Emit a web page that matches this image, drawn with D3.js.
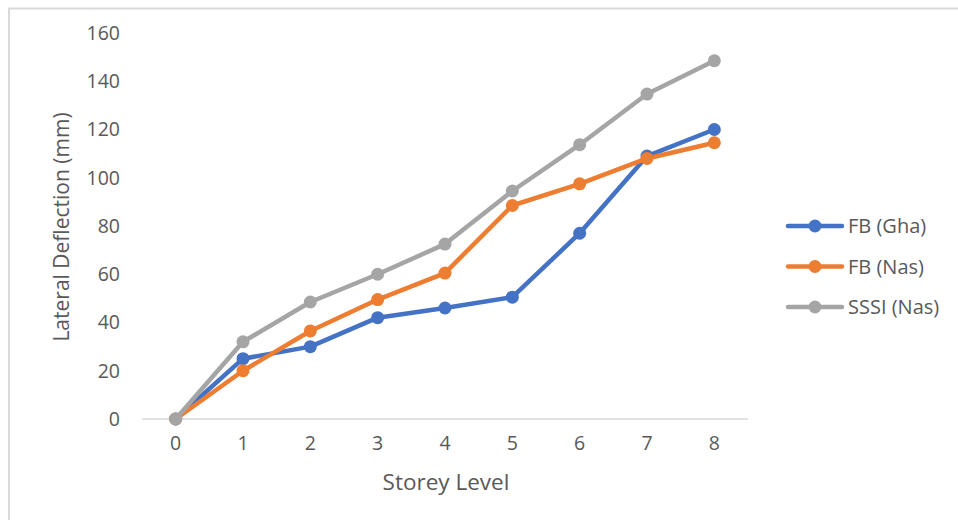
<!DOCTYPE html>
<html>
<head>
<meta charset="utf-8">
<script src="https://cdn.jsdelivr.net/npm/d3@7"></script>
<style>
  html, body { margin: 0; padding: 0; background: #fff; }
  svg { display: block; font-family: "Open Sans", "Noto Sans", sans-serif; }
</style>
</head>
<body>
<svg id="chart" width="958" height="520"></svg>
<script>
// Storey levels and lateral deflection (mm) per model
const storeys = [0, 1, 2, 3, 4, 5, 6, 7, 8];
const fbGha  = [0, 25, 30, 42, 46, 50.5, 77, 109, 120];
const fbNas  = [0, 20, 36.5, 49.5, 60.5, 88.5, 97.5, 108, 114.5];
const sssiNas = [0, 32, 48.5, 60, 72.5, 94.5, 113.7, 134.7, 148.5];
const yTicks = [0, 20, 40, 60, 80, 100, 120, 140, 160];

const series = [
  { name: "FB (Gha)",   values: fbGha,   color: "#4472c4" },
  { name: "FB (Nas)",   values: fbNas,   color: "#ed7d31" },
  { name: "SSSI (Nas)", values: sssiNas, color: "#a5a5a5" }
];

const svg = d3.select("#chart");

// chart frame
svg.append("rect")
  .attr("x", 9).attr("y", 8.5)
  .attr("width", 980).attr("height", 540)
  .attr("fill", "#fff").attr("stroke", "#d9d9d9").attr("stroke-width", 2);

const plot = { left: 142, right: 748, top: 33, bottom: 419 };

const x = d3.scaleBand()
  .domain(storeys)
  .range([plot.left, plot.right]);
const xc = d => x(d) + x.bandwidth() / 2;

const y = d3.scaleLinear()
  .domain([0, 160])
  .range([plot.bottom, plot.top]);

// baseline
svg.append("line")
  .attr("x1", plot.left).attr("x2", plot.right)
  .attr("y1", y(0)).attr("y2", y(0))
  .attr("stroke", "#d9d9d9").attr("stroke-width", 1.5);

// y axis labels
const yAxis = d3.axisLeft(y).tickValues(yTicks).tickSize(0).tickPadding(0);
const gy = svg.append("g").attr("transform", `translate(120,0)`).call(yAxis);
gy.select(".domain").remove();
gy.selectAll("text")
  .attr("fill", "#595959").attr("font-size", 19.5)
  .attr("font-family", "\"Open Sans\", sans-serif");

// x axis labels
const xAxis = d3.axisBottom(x).tickSize(0).tickPadding(0);
const gx = svg.append("g").attr("transform", `translate(0,436)`).call(xAxis);
gx.select(".domain").remove();
gx.selectAll("text")
  .attr("fill", "#595959").attr("font-size", 19.5)
  .attr("font-family", "\"Open Sans\", sans-serif");

// axis titles
svg.append("text")
  .attr("transform", "translate(69,227) rotate(-90)")
  .attr("text-anchor", "middle")
  .attr("fill", "#595959").attr("font-size", 21)
  .text("Lateral Deflection (mm)");

svg.append("text")
  .attr("x", 446).attr("y", 490)
  .attr("text-anchor", "middle")
  .attr("fill", "#595959").attr("font-size", 22.5)
  .text("Storey Level");

// lines and markers
const line = d3.line()
  .x((d, i) => xc(storeys[i]))
  .y(d => y(d));

series.forEach(s => {
  const g = svg.append("g");
  g.append("path")
    .datum(s.values)
    .attr("d", line)
    .attr("fill", "none")
    .attr("stroke", s.color)
    .attr("stroke-width", 4.5)
    .attr("stroke-linejoin", "round")
    .attr("stroke-linecap", "round");
  g.selectAll("circle")
    .data(s.values)
    .join("circle")
    .attr("cx", (d, i) => xc(storeys[i]))
    .attr("cy", d => y(d))
    .attr("r", 6.5)
    .attr("fill", s.color);
});

// legend
const legend = svg.append("g");
series.forEach((s, i) => {
  const ly = 226 + i * 40.5;
  legend.append("line")
    .attr("x1", 788).attr("x2", 842)
    .attr("y1", ly).attr("y2", ly)
    .attr("stroke", s.color).attr("stroke-width", 4.5)
    .attr("stroke-linecap", "round");
  legend.append("circle")
    .attr("cx", 815).attr("cy", ly).attr("r", 6.5)
    .attr("fill", s.color);
  legend.append("text")
    .attr("x", 848).attr("y", ly)
    .attr("dy", "0.35em")
    .attr("fill", "#595959").attr("font-size", 20)
    .text(s.name);
});
</script>
</body>
</html>
